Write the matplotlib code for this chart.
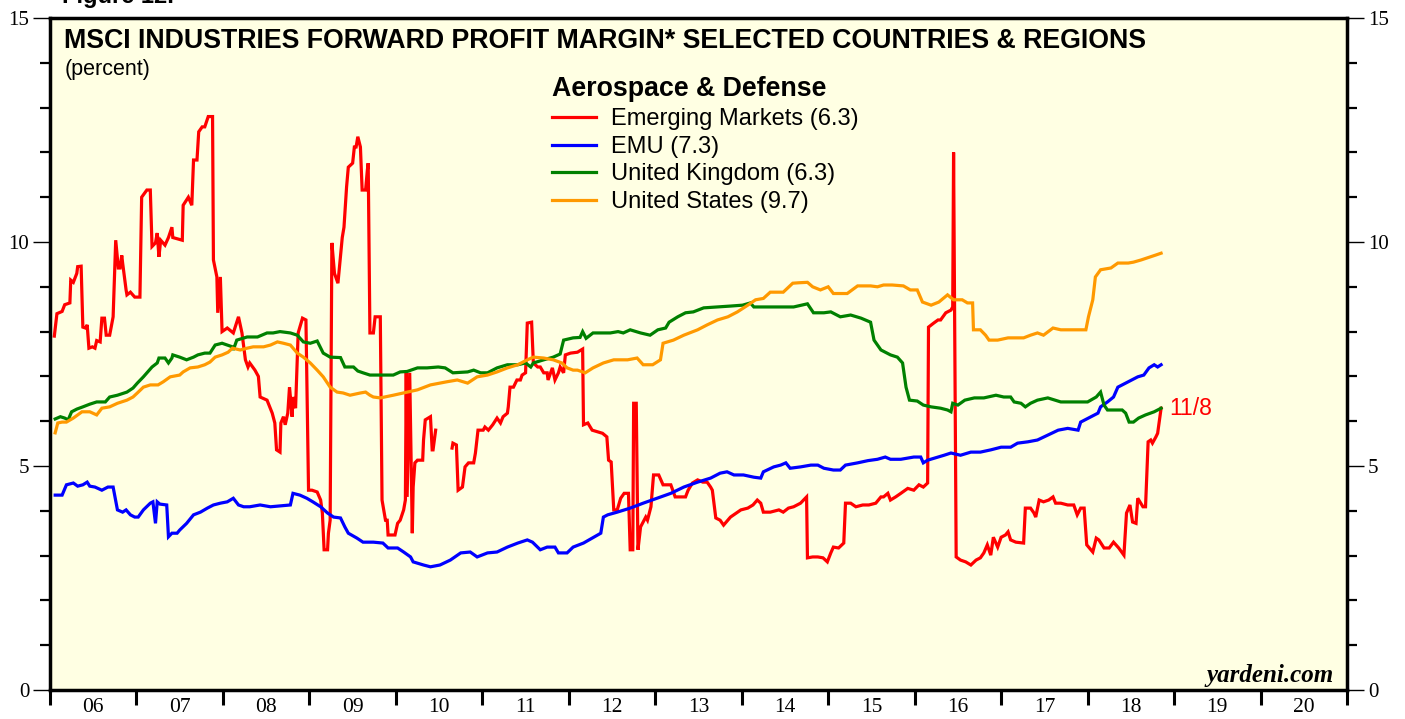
import numpy as np
import matplotlib
matplotlib.use("Agg")
import matplotlib.pyplot as plt
from matplotlib.ticker import MultipleLocator, FixedLocator, NullFormatter, FixedFormatter

# ---- data (decimal year, percent) ----
em_year = [2006.05, 2006.08, 2006.14, 2006.17, 2006.23, 2006.24, 2006.27, 2006.31, 2006.32, 2006.36,
           2006.38, 2006.41, 2006.43, 2006.45, 2006.49, 2006.52, 2006.54, 2006.58, 2006.60, 2006.63,
           2006.65, 2006.69, 2006.73, 2006.76, 2006.79, 2006.81, 2006.83, 2006.84, 2006.88, 2006.89,
           2006.93, 2006.98, 2007.04, 2007.06, 2007.12, 2007.16, 2007.18, 2007.22, 2007.24, 2007.26,
           2007.28, 2007.33, 2007.37, 2007.41, 2007.42, 2007.53, 2007.54, 2007.60, 2007.64, 2007.66,
           2007.70, 2007.72, 2007.76, 2007.79, 2007.83, 2007.88, 2007.89, 2007.93, 2007.94, 2007.97,
           2007.99, 2008.05, 2008.12, 2008.18, 2008.22, 2008.26, 2008.29, 2008.31, 2008.37, 2008.41,
           2008.43, 2008.51, 2008.57, 2008.60, 2008.62, 2008.66, 2008.67, 2008.70, 2008.72, 2008.75,
           2008.77, 2008.80, 2008.81, 2008.84, 2008.87, 2008.92, 2008.96, 2008.99, 2009.03, 2009.09,
           2009.13, 2009.15, 2009.17, 2009.21, 2009.22, 2009.24, 2009.26, 2009.29, 2009.33, 2009.38,
           2009.40, 2009.43, 2009.45, 2009.50, 2009.52, 2009.54, 2009.56, 2009.59, 2009.61, 2009.65,
           2009.67, 2009.68, 2009.70, 2009.74, 2009.76, 2009.82, 2009.84, 2009.88, 2009.90, 2009.91,
           2009.99, 2010.02, 2010.05, 2010.09, 2010.11, 2010.12, 2010.13, 2010.16, 2010.19, 2010.20,
           2010.22, 2010.25, 2010.31, 2010.32, 2010.34, 2010.40, 2010.42, 2010.43, 2010.46, 2010.55,
           2010.65, 2010.66, 2010.70, 2010.72, 2010.77, 2010.80, 2010.84, 2010.90, 2010.92, 2010.95,
           2011.01, 2011.03, 2011.07, 2011.12, 2011.17, 2011.21, 2011.24, 2011.29, 2011.30, 2011.32,
           2011.36, 2011.40, 2011.44, 2011.46, 2011.50, 2011.52, 2011.57, 2011.59, 2011.64, 2011.67,
           2011.71, 2011.75, 2011.76, 2011.81, 2011.84, 2011.88, 2011.90, 2011.94, 2011.96, 2012.02,
           2012.10, 2012.16, 2012.17, 2012.22, 2012.27, 2012.39, 2012.44, 2012.46, 2012.49, 2012.52,
           2012.56, 2012.60, 2012.64, 2012.69, 2012.71, 2012.74, 2012.75, 2012.78, 2012.80, 2012.83,
           2012.89, 2012.91, 2012.95, 2012.98, 2013.04, 2013.09, 2013.18, 2013.23, 2013.35, 2013.38,
           2013.43, 2013.49, 2013.55, 2013.60, 2013.64, 2013.66, 2013.70, 2013.75, 2013.79, 2013.87,
           2013.99, 2014.07, 2014.13, 2014.18, 2014.22, 2014.25, 2014.33, 2014.43, 2014.48, 2014.54,
           2014.60, 2014.68, 2014.75, 2014.76, 2014.82, 2014.88, 2014.94, 2014.99, 2015.03, 2015.06,
           2015.12, 2015.18, 2015.20, 2015.26, 2015.32, 2015.40, 2015.47, 2015.55, 2015.61, 2015.64,
           2015.69, 2015.72, 2015.78, 2015.84, 2015.92, 2015.99, 2016.05, 2016.10, 2016.15, 2016.16,
           2016.22, 2016.27, 2016.30, 2016.36, 2016.42, 2016.44, 2016.45, 2016.48, 2016.53, 2016.59,
           2016.65, 2016.71, 2016.76, 2016.80, 2016.84, 2016.88, 2016.91, 2016.96, 2017.00, 2017.05,
           2017.08, 2017.11, 2017.17, 2017.26, 2017.28, 2017.34, 2017.38, 2017.40, 2017.44, 2017.49,
           2017.55, 2017.60, 2017.63, 2017.69, 2017.77, 2017.84, 2017.88, 2017.92, 2017.96, 2017.99,
           2018.06, 2018.10, 2018.13, 2018.19, 2018.25, 2018.30, 2018.36, 2018.42, 2018.45, 2018.49,
           2018.52, 2018.56, 2018.58, 2018.64, 2018.67, 2018.70, 2018.73, 2018.75, 2018.79, 2018.81,
           2018.85]
em_val = [7.90, 8.40, 8.45, 8.60, 8.64, 9.15, 9.10, 9.30, 9.45, 9.46,
          8.10, 8.08, 8.15, 7.63, 7.66, 7.63, 7.80, 7.77, 8.30, 8.30,
          7.92, 7.92, 8.33, 10.04, 9.42, 9.42, 9.70, 9.53, 8.93, 8.82,
          8.88, 8.77, 8.77, 11.00, 11.16, 11.16, 9.90, 9.98, 10.20, 9.67,
          10.04, 9.93, 10.10, 10.33, 10.10, 10.04, 10.82, 11.00, 10.82, 11.83,
          11.83, 12.46, 12.57, 12.57, 12.80, 12.80, 9.60, 9.22, 8.42, 9.22,
          8.00, 8.08, 7.97, 8.33, 7.97, 7.37, 7.21, 7.30, 7.14, 7.00,
          6.54, 6.47, 6.18, 5.96, 5.36, 5.31, 5.96, 6.10, 5.92, 6.18,
          6.76, 6.10, 6.54, 6.29, 7.97, 8.30, 8.26, 4.46, 4.46, 4.42,
          4.24, 3.95, 3.13, 3.13, 3.50, 3.79, 9.98, 9.30, 9.08, 10.10,
          10.33, 11.23, 11.67, 11.76, 12.12, 12.12, 12.35, 12.12, 11.16, 11.16,
          11.60, 11.76, 7.97, 7.97, 8.33, 8.33, 4.24, 3.79, 3.79, 3.46,
          3.46, 3.72, 3.79, 4.02, 4.24, 7.08, 4.31, 7.08, 3.50, 4.53,
          5.07, 5.13, 5.13, 5.58, 6.03, 6.10, 5.36, 5.36, 5.80, np.nan,
          5.40, 5.51, 5.47, 4.46, 4.53, 4.98, 5.07, 5.07, 5.29, 5.80,
          5.80, 5.87, 5.80, 5.92, 6.07, 5.96, 6.10, 6.18, 6.32, 6.76,
          6.76, 6.92, 6.92, 7.03, 7.08, 8.19, 8.21, 7.30, 7.21, 7.21,
          7.08, 7.08, 6.92, 7.19, 6.92, 7.08, 7.21, 7.08, 7.48, 7.52,
          7.54, 7.61, 5.92, 5.96, 5.80, 5.73, 5.65, 5.13, 5.09, 4.02,
          4.02, 4.28, 4.39, 4.39, 3.13, 3.13, 6.40, 6.40, 3.13, 3.64,
          3.86, 3.79, 4.09, 4.80, 4.80, 4.58, 4.58, 4.31, 4.31, 4.46,
          4.62, 4.69, 4.64, 4.64, 4.53, 4.46, 3.84, 3.79, 3.68, 3.86,
          4.02, 4.06, 4.13, 4.24, 4.17, 3.97, 3.97, 4.02, 3.97, 4.06,
          4.09, 4.17, 4.31, 2.95, 2.97, 2.97, 2.95, 2.86, 3.06, 3.19,
          3.17, 3.28, 4.17, 4.17, 4.09, 4.13, 4.13, 4.17, 4.31, 4.31,
          4.39, 4.24, 4.31, 4.39, 4.50, 4.46, 4.58, 4.53, 4.62, 8.10,
          8.19, 8.26, 8.26, 8.42, 8.48, 8.55, 12.00, 2.97, 2.90, 2.86,
          2.79, 2.90, 2.95, 3.06, 3.24, 3.01, 3.41, 3.19, 3.41, 3.46,
          3.53, 3.35, 3.30, 3.28, 4.06, 4.06, 3.95, 3.86, 4.24, 4.20,
          4.24, 4.31, 4.17, 4.17, 4.13, 4.13, 3.91, 4.06, 4.06, 3.24,
          3.08, 3.39, 3.35, 3.17, 3.17, 3.30, 3.17, 3.01, 3.95, 4.13,
          3.75, 3.72, 4.28, 4.09, 4.09, 5.54, 5.58, 5.51, 5.65, 5.73,
          6.29]

emu_year = [2006.06, 2006.14, 2006.19, 2006.27, 2006.32, 2006.38, 2006.43, 2006.46, 2006.52, 2006.60,
            2006.67, 2006.73, 2006.78, 2006.84, 2006.88, 2006.93, 2006.98, 2007.02, 2007.08, 2007.16,
            2007.19, 2007.22, 2007.24, 2007.27, 2007.35, 2007.37, 2007.41, 2007.47, 2007.50, 2007.58,
            2007.66, 2007.74, 2007.82, 2007.89, 2007.97, 2008.05, 2008.12, 2008.18, 2008.24, 2008.31,
            2008.43, 2008.55, 2008.66, 2008.78, 2008.81, 2008.89, 2008.97, 2009.04, 2009.13, 2009.21,
            2009.28, 2009.36, 2009.41, 2009.45, 2009.55, 2009.62, 2009.74, 2009.85, 2009.91, 2010.02,
            2010.09, 2010.17, 2010.20, 2010.32, 2010.40, 2010.51, 2010.63, 2010.75, 2010.86, 2010.94,
            2011.06, 2011.17, 2011.29, 2011.41, 2011.52, 2011.58, 2011.67, 2011.75, 2011.84, 2011.88,
            2011.98, 2012.05, 2012.17, 2012.27, 2012.37, 2012.40, 2012.45, 2012.56, 2012.71, 2012.86,
            2013.02, 2013.18, 2013.33, 2013.49, 2013.64, 2013.75, 2013.83, 2013.91, 2014.02, 2014.14,
            2014.22, 2014.25, 2014.37, 2014.45, 2014.51, 2014.56, 2014.68, 2014.80, 2014.88, 2014.95,
            2015.06, 2015.14, 2015.20, 2015.34, 2015.46, 2015.57, 2015.66, 2015.72, 2015.84, 2015.99,
            2016.07, 2016.10, 2016.15, 2016.22, 2016.34, 2016.42, 2016.53, 2016.65, 2016.76, 2016.88,
            2017.00, 2017.11, 2017.19, 2017.31, 2017.42, 2017.54, 2017.66, 2017.77, 2017.89, 2017.92,
            2018.04, 2018.12, 2018.15, 2018.23, 2018.30, 2018.35, 2018.47, 2018.58, 2018.65, 2018.71,
            2018.77, 2018.81, 2018.85]
emu_val = [4.35, 4.35, 4.58, 4.62, 4.55, 4.58, 4.64, 4.55, 4.53, 4.46,
           4.53, 4.53, 4.02, 3.97, 4.02, 3.91, 3.86, 3.86, 4.02, 4.17,
           4.20, 3.72, 4.20, 4.15, 4.13, 3.42, 3.50, 3.50, 3.57, 3.72,
           3.91, 3.97, 4.06, 4.13, 4.17, 4.20, 4.28, 4.13, 4.09, 4.09,
           4.13, 4.09, 4.11, 4.13, 4.39, 4.35, 4.28, 4.20, 4.09, 3.95,
           3.86, 3.84, 3.64, 3.50, 3.39, 3.30, 3.30, 3.28, 3.17, 3.17,
           3.08, 2.97, 2.86, 2.79, 2.75, 2.79, 2.90, 3.06, 3.08, 2.97,
           3.06, 3.08, 3.19, 3.28, 3.35, 3.30, 3.13, 3.19, 3.19, 3.06,
           3.06, 3.19, 3.28, 3.39, 3.50, 3.86, 3.91, 3.97, 4.06, 4.17,
           4.28, 4.39, 4.53, 4.64, 4.73, 4.84, 4.87, 4.80, 4.80, 4.75,
           4.73, 4.87, 4.98, 5.02, 5.07, 4.95, 4.98, 5.02, 5.02, 4.95,
           4.91, 4.91, 5.02, 5.07, 5.12, 5.15, 5.20, 5.15, 5.15, 5.20,
           5.20, 5.07, 5.13, 5.17, 5.24, 5.29, 5.24, 5.31, 5.31, 5.36,
           5.42, 5.42, 5.51, 5.54, 5.58, 5.69, 5.80, 5.84, 5.80, 5.98,
           6.10, 6.18, 6.32, 6.43, 6.54, 6.76, 6.88, 6.99, 7.03, 7.19,
           7.26, 7.21, 7.26]

uk_year = [2006.06, 2006.12, 2006.17, 2006.21, 2006.25, 2006.31, 2006.38, 2006.46, 2006.54, 2006.64,
           2006.69, 2006.78, 2006.89, 2006.96, 2007.01, 2007.08, 2007.13, 2007.18, 2007.24, 2007.26,
           2007.33, 2007.37, 2007.41, 2007.42, 2007.50, 2007.58, 2007.66, 2007.71, 2007.79, 2007.85,
           2007.91, 2007.99, 2008.11, 2008.12, 2008.16, 2008.28, 2008.40, 2008.51, 2008.58, 2008.66,
           2008.78, 2008.86, 2008.93, 2009.01, 2009.09, 2009.16, 2009.24, 2009.36, 2009.41, 2009.51,
           2009.56, 2009.62, 2009.70, 2009.78, 2009.97, 2010.05, 2010.13, 2010.25, 2010.36, 2010.49,
           2010.57, 2010.66, 2010.83, 2010.90, 2010.98, 2011.06, 2011.17, 2011.29, 2011.41, 2011.50,
           2011.56, 2011.59, 2011.71, 2011.82, 2011.90, 2011.94, 2012.05, 2012.13, 2012.16, 2012.20,
           2012.28, 2012.48, 2012.57, 2012.63, 2012.71, 2012.83, 2012.94, 2013.03, 2013.12, 2013.16,
           2013.26, 2013.35, 2013.44, 2013.56, 2013.72, 2013.87, 2014.01, 2014.10, 2014.14, 2014.30,
           2014.45, 2014.60, 2014.76, 2014.83, 2014.95, 2015.03, 2015.14, 2015.26, 2015.38, 2015.49,
           2015.53, 2015.61, 2015.72, 2015.80, 2015.86, 2015.90, 2015.94, 2016.03, 2016.10, 2016.19,
           2016.30, 2016.38, 2016.42, 2016.44, 2016.50, 2016.58, 2016.69, 2016.80, 2016.94, 2017.03,
           2017.11, 2017.15, 2017.23, 2017.28, 2017.34, 2017.42, 2017.54, 2017.69, 2017.84, 2018.00,
           2018.10, 2018.15, 2018.19, 2018.23, 2018.30, 2018.40, 2018.44, 2018.48, 2018.53, 2018.59,
           2018.67, 2018.77, 2018.85]
uk_val = [6.05, 6.10, 6.07, 6.03, 6.21, 6.27, 6.32, 6.38, 6.43, 6.43,
          6.54, 6.58, 6.65, 6.74, 6.85, 6.99, 7.10, 7.21, 7.30, 7.41,
          7.41, 7.30, 7.41, 7.48, 7.43, 7.37, 7.43, 7.48, 7.52, 7.52,
          7.70, 7.74, 7.66, 7.59, 7.81, 7.88, 7.88, 7.97, 7.97, 8.00,
          7.97, 7.92, 7.77, 7.74, 7.79, 7.52, 7.43, 7.42, 7.21, 7.21,
          7.12, 7.08, 7.03, 7.03, 7.03, 7.10, 7.11, 7.19, 7.19, 7.21,
          7.19, 7.08, 7.10, 7.14, 7.08, 7.08, 7.19, 7.26, 7.26, 7.30,
          7.21, 7.30, 7.37, 7.43, 7.50, 7.81, 7.86, 7.87, 8.00, 7.85,
          7.97, 7.97, 8.00, 7.97, 8.04, 7.97, 7.92, 8.04, 8.08, 8.21,
          8.33, 8.42, 8.44, 8.53, 8.55, 8.57, 8.59, 8.64, 8.55, 8.55,
          8.55, 8.55, 8.62, 8.42, 8.42, 8.44, 8.33, 8.37, 8.30, 8.21,
          7.81, 7.59, 7.48, 7.43, 7.30, 6.76, 6.47, 6.45, 6.36, 6.32,
          6.29, 6.25, 6.21, 6.40, 6.36, 6.47, 6.52, 6.52, 6.58, 6.54,
          6.54, 6.43, 6.40, 6.32, 6.40, 6.47, 6.52, 6.43, 6.43, 6.43,
          6.54, 6.65, 6.36, 6.25, 6.25, 6.25, 6.18, 5.98, 5.98, 6.07,
          6.14, 6.21, 6.29]

us_year = [2006.06, 2006.09, 2006.14, 2006.19, 2006.27, 2006.37, 2006.46, 2006.54, 2006.60, 2006.69,
           2006.78, 2006.89, 2006.96, 2007.01, 2007.08, 2007.16, 2007.25, 2007.31, 2007.39, 2007.50,
           2007.54, 2007.62, 2007.71, 2007.79, 2007.85, 2007.91, 2007.99, 2008.06, 2008.11, 2008.20,
           2008.28, 2008.35, 2008.47, 2008.55, 2008.63, 2008.70, 2008.78, 2008.86, 2008.93, 2009.01,
           2009.09, 2009.16, 2009.24, 2009.32, 2009.39, 2009.47, 2009.59, 2009.65, 2009.70, 2009.74,
           2009.82, 2009.97, 2010.13, 2010.25, 2010.40, 2010.51, 2010.59, 2010.71, 2010.83, 2010.94,
           2011.06, 2011.17, 2011.29, 2011.41, 2011.52, 2011.59, 2011.71, 2011.82, 2011.92, 2011.98,
           2012.05, 2012.10, 2012.19, 2012.28, 2012.40, 2012.52, 2012.68, 2012.79, 2012.86, 2012.97,
           2013.06, 2013.09, 2013.21, 2013.33, 2013.49, 2013.60, 2013.72, 2013.84, 2013.95, 2014.07,
           2014.16, 2014.25, 2014.33, 2014.48, 2014.59, 2014.66, 2014.76, 2014.82, 2014.91, 2015.00,
           2015.06, 2015.22, 2015.34, 2015.49, 2015.57, 2015.64, 2015.74, 2015.87, 2015.95, 2016.03,
           2016.09, 2016.19, 2016.28, 2016.38, 2016.45, 2016.55, 2016.61, 2016.67, 2016.68, 2016.76,
           2016.82, 2016.86, 2016.96, 2017.08, 2017.17, 2017.26, 2017.34, 2017.42, 2017.49, 2017.60,
           2017.69, 2017.81, 2017.98, 2018.01, 2018.06, 2018.09, 2018.15, 2018.27, 2018.35, 2018.47,
           2018.53, 2018.62, 2018.73, 2018.79, 2018.85]
us_val = [5.74, 5.96, 5.98, 5.98, 6.07, 6.21, 6.21, 6.14, 6.29, 6.32,
          6.40, 6.47, 6.54, 6.63, 6.76, 6.81, 6.81, 6.88, 6.99, 7.03,
          7.10, 7.19, 7.21, 7.26, 7.32, 7.43, 7.48, 7.54, 7.63, 7.59,
          7.63, 7.66, 7.66, 7.70, 7.77, 7.74, 7.70, 7.52, 7.43, 7.30,
          7.14, 6.99, 6.76, 6.65, 6.63, 6.58, 6.63, 6.65, 6.58, 6.54,
          6.52, 6.58, 6.65, 6.70, 6.81, 6.85, 6.88, 6.92, 6.85, 6.99,
          7.03, 7.10, 7.19, 7.26, 7.37, 7.43, 7.41, 7.37, 7.30, 7.19,
          7.14, 7.14, 7.08, 7.19, 7.30, 7.37, 7.37, 7.41, 7.26, 7.26,
          7.37, 7.74, 7.81, 7.92, 8.04, 8.15, 8.26, 8.33, 8.44, 8.59,
          8.71, 8.74, 8.88, 8.88, 9.08, 9.09, 9.10, 9.00, 8.93, 9.00,
          8.85, 8.85, 9.02, 9.02, 9.00, 9.04, 9.04, 9.02, 8.93, 8.93,
          8.66, 8.59, 8.66, 8.82, 8.71, 8.71, 8.64, 8.64, 8.04, 8.04,
          7.92, 7.81, 7.81, 7.86, 7.86, 7.86, 7.92, 7.97, 7.92, 8.08,
          8.04, 8.04, 8.04, 8.33, 8.71, 9.22, 9.38, 9.42, 9.53, 9.53,
          9.55, 9.60, 9.67, 9.71, 9.75]

series_names = ["Emerging Markets (6.3)", "EMU (7.3)", "United Kingdom (6.3)", "United States (9.7)"]
series_colors = ["#FF0000", "#0000FF", "#008000", "#FF9900"]
year_labels = ["06", "07", "08", "09", "10", "11", "12", "13", "14", "15", "16", "17", "18", "19", "20"]

sans = "Liberation Sans"
serif = "Liberation Serif"

fig = plt.figure(figsize=(14.05, 7.19), dpi=100)
ax = fig.add_axes([50 / 1405, 1 - 690 / 719, 1297 / 1405, 672 / 719])
ax.set_facecolor("#FFFFE3")

data = [(em_year, em_val), (emu_year, emu_val), (uk_year, uk_val), (us_year, us_val)]
for (xs, ys), name, col in zip(data, series_names, series_colors):
    ax.plot(xs, ys, color=col, lw=2.3, label=name, solid_joinstyle="miter")

ax.set_xlim(2006, 2021)
ax.set_ylim(0, 15)

# x axis: ticks at year boundaries, labels centred in each year
ax.xaxis.set_major_locator(FixedLocator(np.arange(2006, 2022)))
ax.xaxis.set_major_formatter(NullFormatter())
ax.xaxis.set_minor_locator(FixedLocator(np.arange(2006.5, 2021, 1.0)))
ax.xaxis.set_minor_formatter(FixedFormatter(year_labels))
ax.tick_params(axis="x", which="major", direction="out", length=11, width=2.2)
ax.tick_params(axis="x", which="minor", length=0, pad=6, labelsize=15.5)
for t in ax.get_xticklabels(minor=True):
    t.set_fontfamily(serif)

# y axis on both sides
ax.yaxis.set_major_locator(MultipleLocator(5))
ax.yaxis.set_minor_locator(MultipleLocator(1))
ax.tick_params(axis="y", which="both", direction="out", left=True, right=True,
               labelleft=True, labelright=True, labelsize=15)
ax.tick_params(axis="y", which="major", length=12, width=1.0, pad=3)
ax.tick_params(axis="y", which="minor", length=7, width=1.6)
for t in ax.get_yticklabels():
    t.set_fontfamily(serif)

for s in ax.spines.values():
    s.set_linewidth(2.5)

# titles and notes
ax.text(0.011, 0.985, "MSCI INDUSTRIES FORWARD PROFIT MARGIN* SELECTED COUNTRIES & REGIONS",
        transform=ax.transAxes, fontsize=19.3, fontweight="bold", family=sans, va="top")
ax.text(0.011, 0.939, "(percent)", transform=ax.transAxes, fontsize=15.5, family=sans, va="top")
fig.text(62 / 1405, 1 - 3 / 719, "Figure 12.", fontsize=17, fontweight="bold", family=sans, va="baseline")

leg = ax.legend(loc="upper left", bbox_to_anchor=(0.387, 0.913), frameon=False,
                title="Aerospace & Defense", prop={"family": sans, "size": 17},
                handlelength=1.85, handletextpad=0.65, labelspacing=0.24, borderaxespad=0,
                borderpad=0)
leg.get_title().set_fontweight("bold")
leg.get_title().set_fontsize(19.3)
leg.get_title().set_fontfamily(sans)
leg._legend_box.align = "left"

ax.text(em_year[-1] + 0.1, em_val[-1], "11/8", color="#FF0000", fontsize=16.5, family=sans, va="center")
ax.text(0.99, 0.005, "yardeni.com", transform=ax.transAxes, fontsize=18, family=serif,
        fontweight="bold", fontstyle="italic", ha="right", va="bottom")

fig.savefig("out.png", dpi=100, facecolor="white")
